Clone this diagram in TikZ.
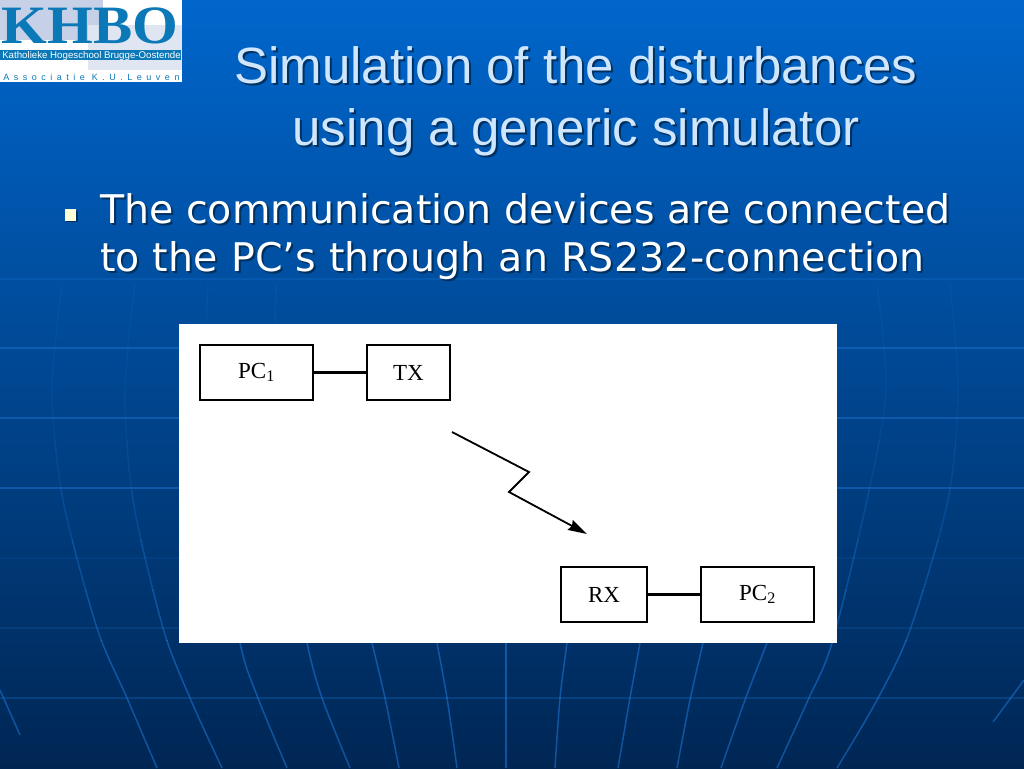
\documentclass[tikz,border=0pt]{standalone}
\usepackage{fontspec}
\setmainfont{Liberation Sans}
\newfontfamily\bodyfont{DejaVu Sans}
\newfontfamily\boxfont{Liberation Serif}
\newfontfamily\logofont[FakeStretch=1.09]{Liberation Serif Bold}
\newfontfamily\spacedfont[LetterSpace=50]{Liberation Sans}
\usepackage{xcolor}
\usepackage{tikz}
\usetikzlibrary{positioning}
\usetikzlibrary{arrows.meta}
\definecolor{khboblue}{HTML}{0B78B8}
\definecolor{titleblue}{HTML}{CFE6FC}
\definecolor{shadowblue}{HTML}{00305F}
\definecolor{gridblue}{HTML}{2080E4}
\definecolor{slidetop}{HTML}{0066CC}
\definecolor{slidemid}{HTML}{0052A6}
\definecolor{slidebottom}{HTML}{002654}
\definecolor{logopale}{HTML}{C6D0E6}
\definecolor{logolight}{HTML}{DFE6F2}
\definecolor{bulletcream}{HTML}{FFFFD8}
\tikzset{
	main node/.style={rectangle,draw=black,line width=2pt,outer sep=0pt,inner sep=0pt,minimum height=55pt,font=\boxfont\fontsize{23}{23}\selectfont},
	wide node/.style={main node,minimum width=113pt},
	narrow node/.style={main node,minimum width=84pt},
	title text/.style={anchor=base,inner sep=0pt,font=\fontsize{51}{51}\selectfont},
	body text/.style={anchor=base west,inner sep=0pt,font=\bodyfont\fontsize{39.5}{39.5}\selectfont},
	grid line/.style={draw=gridblue,line width=1.5pt},
	link/.style={draw=black,line width=2.2pt}
}
\newcommand{\gridcurve}[1]{\draw [grid line] plot [smooth] coordinates {#1};}
\begin{document}
\begin{tikzpicture}[x=1pt,y=-1pt,>={Stealth[length=19pt,width=11pt,inset=2pt]}]
	\useasboundingbox (0,0) rectangle (1024,768);
	\shade [top color=slidetop,middle color=slidemid,bottom color=slidebottom] (0,0) rectangle (1024,768);
	% globe behind the slide
	\foreach \y/\o in {279/.22,348/.38,418/.38,488/.42,558/.1,628/.16,698/.24}
		\draw [grid line,opacity=\o] (0,\y) -- (1024,\y);
	\foreach \from/\to/\o in {280/440/.1,440/490/.16,490/540/.24,540/590/.34,590/640/.42,640/768/.5}
		{\begin{scope}[opacity=\o]
		\clip (0,\from) rectangle (1024,\to);
		\foreach \pts in {
			{(62,285)(52,390)(63,500)(97,628)(127,698)(157,768)},
			{(135,285)(125,390)(133,500)(163,628)(190,698)(222,768)},
			{(208,285)(205,390)(215,500)(240,643)(258,698)(287,768)},
			{(276,285)(275,400)(288,540)(307,643)(322,698)(350,768)},
			{(372,643)(385,698)(399,768)},
			{(437,643)(447,698)(457,768)},
			{(506,643)(506,768)},
			{(567,643)(560,698)(555,768)},
			{(640,643)(630,698)(618,768)},
			{(703,643)(690,700)(677,768)},
			{(767,643)(745,700)(721,768)},
			{(877,285)(886,390)(867,500)(832,643)(808,700)(777,768)},
			{(950,285)(958,390)(948,500)(910,630)(877,700)(837,768)},
			{(0,690)(20,735)},
			{(1024,680)(993,722)}}
			{\expandafter\gridcurve\expandafter{\pts}}
		\end{scope}}
	% logo
	\fill [white] (0,0) rectangle (182,82);
	\fill [logopale] (0,0) rectangle (103,40);
	\fill [logolight] (88,25) rectangle (182,70);
	\fill [khboblue] (0,50) rectangle (181,60);
	\node [anchor=base,inner sep=0pt,text=khboblue,font=\logofont\fontsize{54}{54}\selectfont] (logo) at (90,44) {KHBO};
	\node [anchor=base,inner sep=0pt,text=white,font=\fontsize{9.7}{10}\selectfont] (school) at (91.5,58.5) {Katholieke Hogeschool Brugge-Oostende};
	\node [anchor=base,inner sep=0pt,text=khboblue,font=\spacedfont\fontsize{9}{10}\selectfont] (assoc) at (91.5,80.5) {Associatie K.U.Leuven};
	% title and bullet, each with its shadow first
	\node [title text,text=shadowblue] (title1s) at (578,85) {Simulation of the disturbances};
	\node [title text,text=titleblue] (title1) at (576,83) {Simulation of the disturbances};
	\node [title text,text=shadowblue] (title2s) at (578,147) {using a generic simulator};
	\node [title text,text=titleblue] (title2) at (576,145) {using a generic simulator};
	\fill [shadowblue] (66,210.5) rectangle (77.5,222);
	\fill [bulletcream] (64.5,209) rectangle (76,220.5);
	\node [body text,text=shadowblue] (line1s) at (102,225) {The communication devices are connected};
	\node [body text,text=white] (line1) at (100,223) {The communication devices are connected};
	\node [body text,text=shadowblue] (line2s) at (102,273.5) {\addfontfeature{LetterSpace=.65}to the PC’s through an RS232-connection};
	\node [body text,text=white] (line2) at (100,271.5) {\addfontfeature{LetterSpace=.65}to the PC’s through an RS232-connection};
	% the diagram
	\fill [white] (179,324) rectangle (837,643);
	\node [wide node] (pc1) at (256.5,372.5) {PC\textsubscript{1}};
	\node [narrow node,minimum width=83pt,right=54pt of pc1] (tx) {TX};
	\node [wide node] (pc2) at (757.5,594.5) {PC\textsubscript{2}};
	\node [narrow node,minimum width=86pt,left=54pt of pc2] (rx) {RX};
	\draw [link] (pc1) -- (tx);
	\draw [link] (rx) -- (pc2);
	\coordinate (start) at (452,432);
	\coordinate (bend1) at (529,472);
	\coordinate (bend2) at (509,492);
	\coordinate (end) at (587,534);
	\draw [->,line width=1.8pt] (start) -- (bend1) -- (bend2) -- (end);
\end{tikzpicture}
\end{document}
